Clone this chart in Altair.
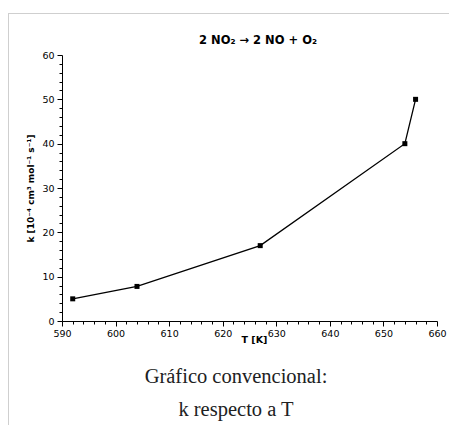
import altair as alt
import pandas as pd

# Data
T_values = [592, 604, 627, 654, 656]
k_values = [5.0, 7.8, 17.0, 40.0, 50.0]

x_major = [590, 600, 610, 620, 630, 640, 650, 660]
x_minor = [v for v in range(590, 661, 2) if v % 10 != 0]
y_major = [0, 10, 20, 30, 40, 50, 60]
y_minor = [v for v in range(0, 61, 2) if v % 10 != 0]

title_text = "2 NO₂ → 2 NO + O₂"
x_title = "T [K]"
y_title = "k [10⁻⁴ cm³ mol⁻¹ s⁻¹]"
caption_text = "Gráfico convencional:\nk respecto a T"

df = pd.DataFrame({"T": T_values, "k": k_values})
one = pd.DataFrame({"a": [0]})

FONT = "DejaVu Sans"
xscale = alt.Scale(domain=[590, 660], nice=False, zero=False)
yscale = alt.Scale(domain=[0, 60], nice=False, zero=False)

main = alt.Chart(df).mark_line(
    color="black", strokeWidth=1.3,
    point=alt.OverlayMarkDef(shape="square", size=25, filled=True, color="black", opacity=1),
).encode(
    x=alt.X("T:Q", scale=xscale, axis=alt.Axis(
        values=x_major, title=x_title, orient="bottom", grid=False,
        tickSize=5, labelPadding=2, titlePadding=-3, titleX=192,
        labelFont=FONT, labelFontSize=9.5, titleFont=FONT, titleFontSize=9.5,
        titleFontWeight="bold", labelColor="black", titleColor="black",
        domainColor="black", tickColor="black", labelFlush=False)),
    y=alt.Y("k:Q", scale=yscale, axis=alt.Axis(
        values=y_major, title=y_title, orient="left", grid=False,
        tickSize=5, labelPadding=3, titlePadding=6,
        labelFont=FONT, labelFontSize=9.5, titleFont=FONT, titleFontSize=9,
        titleFontWeight="bold", labelColor="black", titleColor="black",
        domainColor="black", tickColor="black")),
)

minor = alt.Chart(df).mark_point(opacity=0).encode(
    x=alt.X("T:Q", scale=xscale, axis=alt.Axis(
        values=x_minor, orient="bottom", labels=False, domain=False,
        grid=False, tickSize=3, tickColor="black", title="")),
    y=alt.Y("k:Q", scale=yscale, axis=alt.Axis(
        values=y_minor, orient="left", labels=False, domain=False,
        grid=False, tickSize=3, tickColor="black", title="")),
)

frame_top = alt.Chart(one).mark_rule(color="#cfcfcf", strokeWidth=1).encode(
    x=alt.value(-54), x2=alt.value(387), y=alt.value(-41.5))
frame_left = alt.Chart(one).mark_rule(color="#cfcfcf", strokeWidth=1).encode(
    x=alt.value(-53.5), y=alt.value(-42), y2=alt.value(370))

title = alt.Chart(one).mark_text(
    font=FONT, fontSize=11.5, fontWeight="bold", align="center",
    baseline="alphabetic", color="black",
).encode(x=alt.value(196), y=alt.value(-11), text=alt.value(title_text))

caption = alt.Chart(one).mark_text(
    font="Liberation Serif", fontSize=20.5, lineHeight=33, lineBreak="\n",
    align="center", baseline="alphabetic", color="#202122",
).encode(x=alt.value(174), y=alt.value(328), text=alt.value(caption_text))

chart = alt.layer(frame_top, frame_left, minor, main, title, caption).resolve_axis(
    x="independent", y="independent"
).properties(
    width=375, height=266,
    autosize=alt.AutoSizeParams(type="none"),
    padding={"left": 54, "top": 47, "right": 12, "bottom": 104},
).configure_view(stroke="transparent")

chart.save("out.html", embed_options={"renderer": "svg", "actions": False})
